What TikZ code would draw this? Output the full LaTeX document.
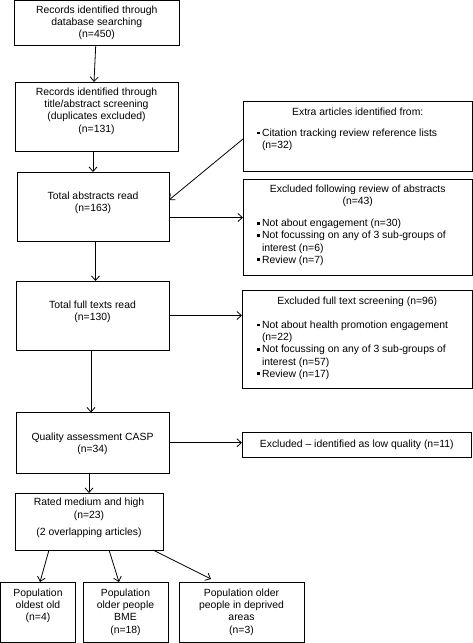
\documentclass[tikz,border=0pt]{standalone}
\usepackage{fontspec}
\setmainfont{Liberation Sans}
\usetikzlibrary{arrows.meta}
\newcommand{\bxt}[4]{\parbox[c][#2][t]{#1}{\centering\vspace*{#3}\strut#4\par}}
\newcommand{\blt}{\leavevmode\llap{\rule[2.2pt]{2.8pt}{2.8pt}\hspace{2.2pt}}}
\newcommand{\lst}[1]{\leftskip=#1\rightskip=0pt plus 1fil\relax}
\tikzset{
  box/.style={draw, line width=0.8pt, inner sep=0pt, outer sep=0pt, font=\fontsize{10.4}{12.2}\selectfont},
  arr/.style={line width=0.8pt, -{Straight Barb[length=4.5pt,width=8pt,line width=0.8pt]}}
}
\begin{document}
\begin{tikzpicture}[x=1pt,y=-1pt]
\useasboundingbox (0,0) rectangle (473,643);
% left column
\node[box] (b1) at (96.75,22.75) {\bxt{165.5pt}{44.5pt}{4.5pt}{Records identified through\\database searching\\(n=450)}};
\node[box] (b2) at (96.5,116.5) {\bxt{163pt}{69pt}{5pt}{Records identified through\\title/abstract screening\\(duplicates excluded)\\(n=131)}};
\node[box] (b3) at (93,206.75) {\bxt{152pt}{69.5pt}{19pt}{Total abstracts read\\(n=163)}};
\node[box] (b4) at (92.5,315.5) {\bxt{153pt}{69pt}{19pt}{Total full texts read\\(n=130)}};
\node[box] (b5) at (92.5,442.75) {\bxt{153pt}{60.5pt}{19pt}{Quality assessment CASP\\(n=34)}};
\node[box] (b6) at (89,521.5) {\bxt{148pt}{57pt}{4pt}{Rated medium and high\\[0.8pt](n=23)\\[4.8pt](2 overlapping articles)}};
\node[box] (b7) at (38,612.25) {\bxt{75pt}{60.5pt}{6pt}{Population\\oldest old\\(n=4)}};
\node[box] (b8) at (125.5,612.25) {\bxt{85pt}{60.5pt}{6pt}{Population\\older people\\BME\\(n=18)}};
\node[box] (b9) at (241.5,612.25) {\bxt{125pt}{60.5pt}{6pt}{Population older\\people in deprived\\areas\\(n=3)}};
% right column
\node[box] (ext) at (357.75,136) {\bxt{229.5pt}{70pt}{6pt}{Extra articles identified from:\par\vspace{8.8pt}\lst{19pt}\blt Citation tracking review reference lists\\(n=32)}};
\node[box] (exa) at (357.75,227) {\bxt{229.5pt}{96pt}{5pt}{Excluded following review of abstracts\\(n=43)\par\vspace{9.8pt}\lst{19pt}\blt Not about engagement (n=30)\par\blt Not focussing on any of 3 sub-groups of\\interest (n=6)\par\blt Review (n=7)}};
\node[box] (exf) at (357.25,339) {\bxt{230.5pt}{98pt}{6pt}{Excluded full text screening (n=96)\par\vspace{11.8pt}\lst{20pt}\blt Not about health promotion engagement\\(n=22)\par\blt Not focussing on any of 3 sub-groups of\\interest (n=57)\par\blt Review (n=17)}};
\node[box] (exq) at (356.75,444.5) {\bxt{229.5pt}{25pt}{7pt}{Excluded -- identified as low quality (n=11)}};
% connectors
\draw[arr] ([xshift=-1pt]b1.south) -- ([xshift=-2.5pt]b2.north);
\draw[arr] (b3.north |- b2.south) -- (b3.north);
\draw[arr] ([xshift=2.5pt]b3.south) -- ([xshift=3pt]b4.north);
\draw[arr] ([xshift=-1.5pt]b4.south) -- ([xshift=-1.5pt]b5.north);
\draw[arr] (b6.north |- b5.south) -- (b6.north);
\draw[arr] ([xshift=-40pt]b6.south) -- ([xshift=2pt]b7.north);
\draw[arr] ([xshift=20pt]b6.south) -- ([xshift=-6.5pt]b8.north);
\draw[arr] ([xshift=64pt]b6.south) -- ([xshift=-30.5pt,yshift=3pt]b9.north);
\draw[arr] ([yshift=-3pt]ext.west) -- ([yshift=6.75pt]b3.east);
\draw[arr] ([yshift=-10.75pt]b3.east) -- ([yshift=-10.75pt]b3.east -| exa.west);
\draw[arr] (b4.east) -- (b4.east -| exf.west);
\draw[arr] (b5.east) -- (b5.east -| exq.west);
\end{tikzpicture}
\end{document}
